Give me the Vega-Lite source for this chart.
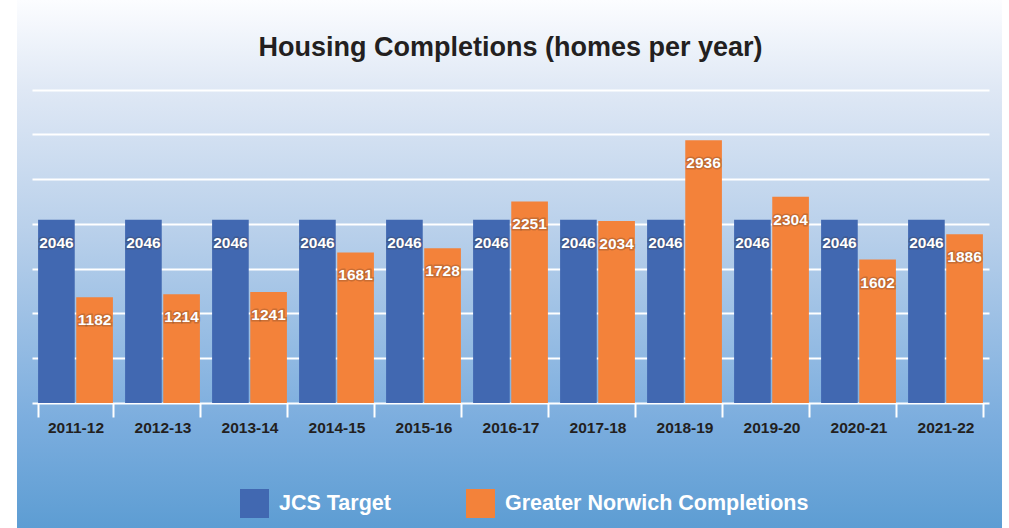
{
  "$schema": "https://vega.github.io/schema/vega-lite/v6.json",
  "width": 985,
  "height": 528,
  "autosize": {"type": "none"},
  "padding": {"left": 17, "top": 0, "right": 7, "bottom": 0},
  "background": "#ffffff",
  "title": {
    "text": "Housing Completions (homes per year)",
    "font": "Liberation Sans",
    "fontSize": 27,
    "fontWeight": "bold",
    "color": "#231f20",
    "anchor": "middle",
    "offset": -62,
    "dx": 1
  },
  "data": {
    "values": [
      {"year": "2011-12", "series": "JCS Target", "value": 2046},
      {"year": "2011-12", "series": "Greater Norwich Completions", "value": 1182},
      {"year": "2012-13", "series": "JCS Target", "value": 2046},
      {"year": "2012-13", "series": "Greater Norwich Completions", "value": 1214},
      {"year": "2013-14", "series": "JCS Target", "value": 2046},
      {"year": "2013-14", "series": "Greater Norwich Completions", "value": 1241},
      {"year": "2014-15", "series": "JCS Target", "value": 2046},
      {"year": "2014-15", "series": "Greater Norwich Completions", "value": 1681},
      {"year": "2015-16", "series": "JCS Target", "value": 2046},
      {"year": "2015-16", "series": "Greater Norwich Completions", "value": 1728},
      {"year": "2016-17", "series": "JCS Target", "value": 2046},
      {"year": "2016-17", "series": "Greater Norwich Completions", "value": 2251},
      {"year": "2017-18", "series": "JCS Target", "value": 2046},
      {"year": "2017-18", "series": "Greater Norwich Completions", "value": 2034},
      {"year": "2018-19", "series": "JCS Target", "value": 2046},
      {"year": "2018-19", "series": "Greater Norwich Completions", "value": 2936},
      {"year": "2019-20", "series": "JCS Target", "value": 2046},
      {"year": "2019-20", "series": "Greater Norwich Completions", "value": 2304},
      {"year": "2020-21", "series": "JCS Target", "value": 2046},
      {"year": "2020-21", "series": "Greater Norwich Completions", "value": 1602},
      {"year": "2021-22", "series": "JCS Target", "value": 2046},
      {"year": "2021-22", "series": "Greater Norwich Completions", "value": 1886}
    ]
  },
  "encoding": {
    "x": {
      "field": "year",
      "type": "nominal",
      "sort": null,
      "scale": {"range": [15, 972], "paddingInner": 0.14, "paddingOuter": 0.07},
      "axis": {
        "title": null,
        "orient": "bottom",
        "offset": -125,
        "labelAngle": 0,
        "labelFont": "Liberation Sans",
        "labelFontSize": 15.5,
        "labelFontWeight": "bold",
        "labelColor": "#231f20",
        "labelPadding": 3,
        "tickBand": "extent",
        "tickSize": 14,
        "tickColor": "#ffffff",
        "tickWidth": 2,
        "domainColor": "#ffffff",
        "domainWidth": 2,
        "grid": false
      }
    },
    "xOffset": {
      "field": "series",
      "type": "nominal",
      "sort": ["JCS Target", "Greater Norwich Completions"],
      "scale": {"paddingInner": 0.04}
    },
    "y": {
      "field": "value",
      "type": "quantitative",
      "scale": {"domain": [-1397, 4502], "nice": false, "zero": false},
      "axis": {
        "title": null,
        "values": [500, 1000, 1500, 2000, 2500, 3000, 3500],
        "grid": true,
        "gridColor": "#ffffff",
        "gridWidth": 2,
        "labels": false,
        "ticks": false,
        "domain": false
      }
    }
  },
  "layer": [
    {
      "mark": {"type": "bar"},
      "encoding": {
        "color": {
          "field": "series",
          "type": "nominal",
          "scale": {"domain": ["JCS Target", "Greater Norwich Completions"], "range": ["#4168b1", "#f3823a"]},
          "legend": {
            "title": null,
            "orient": "none",
            "direction": "horizontal",
            "legendX": 223,
            "legendY": 489,
            "symbolType": "square",
            "symbolSize": 841,
            "symbolStrokeWidth": 0,
            "symbolOpacity": 1,
            "labelFont": "Liberation Sans",
            "labelFontSize": 21.5,
            "labelFontWeight": "bold",
            "labelColor": "#ffffff",
            "labelOffset": 10,
            "columnPadding": 75,
            "labelLimit": 400
          }
        }
      }
    },
    {
      "mark": {
        "type": "text",
        "baseline": "middle",
        "align": "center",
        "dy": 23,
        "font": "Liberation Sans",
        "fontSize": 15.5,
        "fontWeight": "bold",
        "fill": "#3a2a20",
        "fillOpacity": 0.3,
        "stroke": "#3a2a20",
        "strokeOpacity": 0.22,
        "strokeWidth": 3
      },
      "encoding": {"text": {"field": "value", "type": "quantitative", "format": "d"}}
    },
    {
      "mark": {
        "type": "text",
        "baseline": "middle",
        "align": "center",
        "dy": 23,
        "font": "Liberation Sans",
        "fontSize": 15.5,
        "fontWeight": "bold",
        "fill": "#ffffff"
      },
      "encoding": {"text": {"field": "value", "type": "quantitative", "format": "d"}}
    }
  ],
  "config": {
    "view": {
      "stroke": null,
      "fill": {
        "gradient": "linear",
        "x1": 0, "y1": 0, "x2": 0, "y2": 1,
        "stops": [
          {"offset": 0, "color": "#fcfdff"},
          {"offset": 0.17, "color": "#dfe8f5"},
          {"offset": 0.45, "color": "#b7cfea"},
          {"offset": 0.8, "color": "#7badde"},
          {"offset": 1, "color": "#5d9dd3"}
        ]
      }
    }
  }
}
